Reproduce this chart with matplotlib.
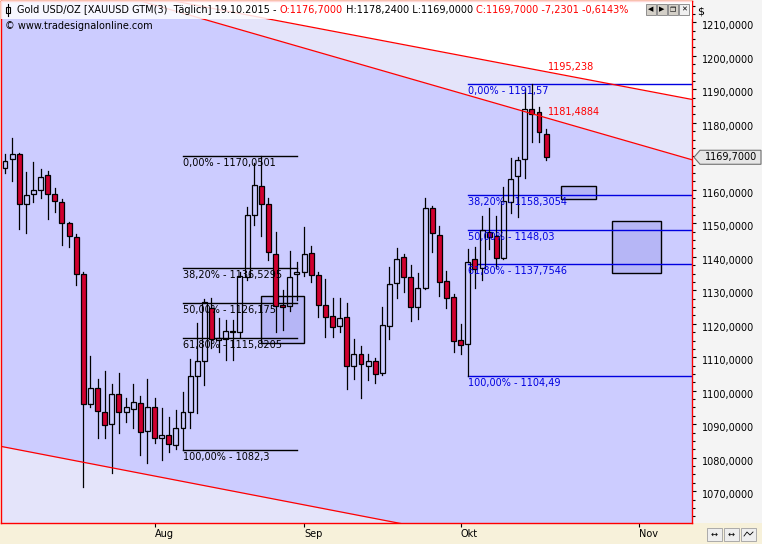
import numpy as np
import matplotlib.pyplot as plt
from matplotlib.patches import Rectangle, Polygon
from matplotlib.transforms import IdentityTransform, ScaledTranslation

plt.rcParams['font.family'] = ['DejaVu Sans']

# daily bars, Jul 02 2015 .. Oct 19 2015 (index 0..76)
opens  = [1166.4, 1169.1, 1170.6, 1155.7, 1158.6, 1159.8, 1164.3, 1158.6, 1156.3, 1150.0,
          1145.8, 1134.8, 1096.0, 1100.7, 1093.6, 1090.0, 1098.9, 1093.6, 1094.5, 1096.3,
          1087.9, 1095.1, 1085.8, 1086.7, 1083.7, 1088.8, 1093.6, 1104.4, 1108.9, 1124.6,
          1115.2, 1115.4, 1117.9, 1117.6, 1134.0, 1152.4, 1161.0, 1155.7, 1140.8, 1125.6,
          1125.3, 1134.8, 1135.4, 1141.0, 1134.5, 1125.5, 1122.3, 1119.3, 1121.9, 1107.5,
          1111.0, 1107.5, 1108.8, 1105.2, 1119.4, 1132.1, 1139.8, 1133.9, 1124.9, 1130.6,
          1154.5, 1146.4, 1132.8, 1127.9, 1115.1, 1113.9, 1139.2, 1136.6, 1147.5, 1146.2,
          1139.5, 1156.4, 1164.1, 1169.1, 1184.0, 1183.1, 1176.7]
highs  = [1170.7, 1175.4, 1171.1, 1165.2, 1168.2, 1166.1, 1165.5, 1160.4, 1157.2, 1150.3,
          1146.7, 1135.4, 1110.4, 1103.4, 1106.0, 1101.9, 1105.2, 1097.7, 1101.9, 1098.5,
          1103.4, 1097.9, 1094.8, 1092.1, 1094.2, 1099.5, 1109.4, 1120.1, 1127.3, 1127.6,
          1121.6, 1121.1, 1121.1, 1135.5, 1154.9, 1167.9, 1170.05, 1157.5, 1147.5, 1130.1,
          1141.7, 1138.4, 1148.8, 1143.2, 1135.5, 1133.3, 1127.6, 1127.6, 1126.1, 1115.4,
          1113.4, 1111.0, 1109.7, 1125.1, 1136.9, 1142.5, 1140.8, 1137.5, 1135.1, 1157.5,
          1155.2, 1149.2, 1135.7, 1128.9, 1119.9, 1142.2, 1142.8, 1152.2, 1154.5, 1152.2,
          1160.7, 1169.4, 1169.7, 1190.3, 1191.57, 1184.6, 1178.24]
lows   = [1164.9, 1162.7, 1148.2, 1147.0, 1156.3, 1157.5, 1151.2, 1153.3, 1143.4, 1142.8,
          1131.5, 1071.3, 1095.2, 1085.8, 1085.8, 1075.4, 1087.3, 1090.6, 1088.8, 1080.7,
          1078.3, 1084.3, 1079.2, 1081.6, 1082.6, 1082.3, 1089.0, 1093.3, 1101.7, 1112.7,
          1111.7, 1109.2, 1109.2, 1116.1, 1133.1, 1149.5, 1146.2, 1139.0, 1117.6, 1118.1,
          1123.9, 1127.1, 1134.3, 1132.6, 1122.1, 1116.1, 1116.1, 1117.5, 1100.5, 1103.5,
          1097.9, 1103.2, 1102.2, 1104.6, 1115.5, 1127.8, 1129.6, 1120.9, 1121.5, 1130.4,
          1141.3, 1128.3, 1124.6, 1111.6, 1111.0, 1104.49, 1130.6, 1133.1, 1142.2, 1136.6,
          1139.3, 1153.2, 1152.0, 1163.4, 1174.3, 1174.3, 1169.0]
closes = [1168.7, 1170.6, 1155.7, 1158.3, 1159.8, 1163.7, 1158.6, 1156.6, 1150.0, 1146.1,
          1134.8, 1096.0, 1100.7, 1093.9, 1089.7, 1098.9, 1093.6, 1095.1, 1096.6, 1087.6,
          1095.1, 1085.8, 1086.7, 1084.0, 1088.8, 1093.6, 1104.4, 1108.8, 1126.6, 1115.4,
          1115.6, 1117.7, 1117.5, 1134.3, 1152.6, 1161.4, 1155.7, 1141.3, 1125.4, 1124.9,
          1133.9, 1135.4, 1140.7, 1134.5, 1125.5, 1122.1, 1119.1, 1121.6, 1107.5, 1111.0,
          1107.9, 1108.8, 1104.9, 1119.5, 1131.8, 1139.2, 1133.9, 1125.1, 1130.6, 1154.5,
          1147.0, 1132.4, 1127.6, 1114.9, 1113.6, 1138.4, 1136.2, 1147.9, 1146.0, 1139.5,
          1156.7, 1163.1, 1168.9, 1184.0, 1182.6, 1177.2, 1169.7]

month_labels = ['Aug', 'Sep', 'Okt', 'Nov']
month_bars = [21, 42, 64, 89]

# fibonacci retracements
fib_pct = ['0,00%', '38,20%', '50,00%', '61,80%', '100,00%']
fib_left_vals = [1170.0501, 1136.5295, 1126.175, 1115.8205, 1082.3]
fib_left_txt = ['1170,0501', '1136,5295', '1126,175', '1115,8205', '1082,3']
fib_left_bars = (25, 41)
fib_right_vals = [1191.57, 1158.3054, 1148.03, 1137.7546, 1104.49]
fib_right_txt = ['1191,57', '1158,3054', '1148,03', '1137,7546', '1104,49']
fib_right_start = 65

# trend lines: value at last bar, slope per bar
last_bar = 76
upper_line = (1195.238, -0.404)
mid_line = (1181.4884, -0.612)
lower_line = (1052.0, -0.41)

# boxes: bar from, bar to, low, high
boxes = [(36.0, 42.0, 1114.2, 1128.3),
         (78.1, 83.0, 1157.2, 1161.1),
         (85.2, 92.1, 1135.1, 1150.6)]

last_close = 1169.7

W, H = 762, 544
PX = IdentityTransform()
fig = plt.figure(figsize=(W / 100, H / 100), dpi=100, facecolor='#F7F1DA')

# right price scale panel
fig.add_artist(Rectangle((693, H - 523), 69, 523, transform=PX,
                         facecolor='#F4F4F4', edgecolor='none', zorder=0))

ax = fig.add_axes([1 / W, 21 / H, 691 / W, 522 / H])
x0, x1 = -0.562, 96.49
y0, y1 = 1060.52, 1216.35
ax.set_xlim(x0, x1)
ax.set_ylim(y0, y1)
ax.set_facecolor('#CCCCFF')

def line_val(line, b):
    return line[0] + line[1] * (np.asarray(b) - last_bar)

xs = np.array([x0, x1])
ax.fill_between(xs, line_val(mid_line, xs), y1, color='#E4E4FA', lw=0, zorder=0.5)
ax.fill_between(xs, line_val(upper_line, xs), y1, color='white', lw=0, zorder=0.6)
ax.fill_between(xs, y0, line_val(lower_line, xs), color='#E4E4FA', lw=0, zorder=0.6)
for ln in (upper_line, mid_line, lower_line):
    ax.plot(xs, line_val(ln, xs), color='#FF0000', lw=0.9, zorder=4)

for b0, b1, lo, hi in boxes:
    ax.add_patch(Rectangle((b0, lo), b1 - b0, hi - lo, facecolor='#B6B6F6',
                           edgecolor='black', lw=1.0, zorder=1))

# fib drawings
for p, v, t in zip(fib_pct, fib_left_vals, fib_left_txt):
    ax.plot(fib_left_bars, [v, v], color='black', lw=1.0, zorder=2)
    ax.text(fib_left_bars[0], v - 0.6, f'{p} - {t}', fontsize=7, color='black',
            va='top', ha='left', zorder=5)
for p, v, t in zip(fib_pct, fib_right_vals, fib_right_txt):
    ax.plot([fib_right_start, x1], [v, v], color='#0000E0', lw=1.0, zorder=2)
    ax.text(fib_right_start, v - 0.6, f'{p} - {t}', fontsize=7, color='#0000E0',
            va='top', ha='left', zorder=5)

# candles
bw = 0.35
for i, (o, h, l, c) in enumerate(zip(opens, highs, lows, closes)):
    top, bot = max(o, c), min(o, c)
    ax.plot([i, i], [top, h], color='black', lw=0.9, zorder=3)
    ax.plot([i, i], [l, bot], color='black', lw=0.9, zorder=3)
    fc = '#D0002F' if c < o else 'none'
    ax.add_patch(Rectangle((i - bw, bot), 2 * bw, max(top - bot, 0.25),
                           facecolor=fc, edgecolor='black', lw=0.9, zorder=3))

ax.text(last_bar + 0.2, line_val(upper_line, last_bar) + 1.4, '1195,238',
        color='#FF0000', fontsize=7, va='center', ha='left', zorder=5)
ax.text(last_bar + 0.2, line_val(mid_line, last_bar) + 1.8, '1181,4884',
        color='#FF0000', fontsize=7, va='center', ha='left', zorder=5)

# axes / ticks
for s in ax.spines.values():
    s.set_color('#FF0000')
    s.set_linewidth(1.0)
ax.yaxis.tick_right()
major = np.arange(1070, 1211, 10)
ax.set_yticks(major)
ax.set_yticks(np.arange(1062.5, 1216, 2.5), minor=True)
# the 1170 label sits under the last-price tag
ax.set_yticklabels(['' if v == 1170 else f'{v:.4f}'.replace('.', ',') for v in major])
ax.tick_params(axis='y', which='both', direction='out', length=3, width=0.8,
               colors='black', labelsize=7, pad=4)
ax.tick_params(axis='y', which='minor', length=2)
shift = ScaledTranslation(0, -3 / 100, fig.dpi_scale_trans)
for lab in ax.get_yticklabels():
    lab.set_transform(lab.get_transform() + shift)
ax.set_xticks(month_bars)
ax.set_xticklabels(month_labels)
ax.tick_params(axis='x', direction='out', length=3, width=0.8, labelsize=7, pad=1)
for lab in ax.get_xticklabels():
    lab.set_ha('left')

# header band
ax.add_patch(Rectangle((0, 1 - 18 / 522), 1, 18 / 522, transform=ax.transAxes,
                       facecolor='white', edgecolor='none', alpha=0.85, zorder=6))
fig.add_artist(plt.Line2D([8, 8], [H - 4, H - 16], transform=PX, color='black', lw=0.8))
fig.add_artist(Rectangle((6, H - 13), 4, 6, transform=PX, facecolor='white',
                         edgecolor='black', lw=0.8))

renderer = fig.canvas.get_renderer()
parts = [('Gold USD/OZ [XAUUSD GTM(3)  Täglich] 19.10.2015 - ', 'black'),
         ('O:1176,7000', '#FF0000'),
         (' H:1178,2400 L:1169,0000 ', 'black'),
         ('C:1169,7000 -7,2301 -0,6143%', '#FF0000')]
xpos = 17
for s, c in parts:
    t = fig.text(xpos, H - 10, s, transform=PX, color=c, fontsize=7, va='center', zorder=7)
    xpos = t.get_window_extent(renderer).x1
fig.text(5, H - 26, '© www.tradesignalonline.com', transform=PX, fontsize=7,
         va='center', zorder=7)

# window buttons
for k, g in enumerate(['◀', '▶', '❐', '✕']):
    bx = 646 + 11 * k
    fig.add_artist(Rectangle((bx, H - 15), 10, 11, transform=PX,
                             facecolor='#D4D0C8' if k < 3 else '#F0F0F0',
                             edgecolor='#808080', lw=0.6))
    fig.text(bx + 5, H - 9.5, g, transform=PX, fontsize=5, ha='center', va='center')
fig.text(697, H - 11, '$', transform=PX, fontsize=8, va='center')

# scale buttons at bottom right
for k in range(3):
    bx = 707 + 17 * k
    fig.add_artist(Rectangle((bx, H - 541), 15, 13, transform=PX,
                             facecolor='#EEEEEE', edgecolor='#A0A0A0', lw=0.6))
    if k < 2:
        fig.text(bx + 7.5, H - 534, '↔', transform=PX, fontsize=6, ha='center', va='center')
    else:
        fig.add_artist(plt.Line2D([bx + 3, bx + 6, bx + 9, bx + 12],
                                  [H - 536, H - 532, H - 535, H - 532],
                                  transform=PX, color='black', lw=0.6))

# last price tag
yd = ax.transData.transform((0, last_close))[1]
tag = [(694, yd), (700, yd + 7), (761, yd + 7), (761, yd - 7), (700, yd - 7)]
fig.add_artist(Polygon(tag, closed=True, transform=PX, facecolor='#E6E6E6',
                       edgecolor='#707070', lw=0.8, zorder=8))
fig.text(705, yd, '1169,7000', transform=PX, fontsize=7, va='center', zorder=9)

fig.savefig('out.png', dpi=100, facecolor=fig.get_facecolor())
